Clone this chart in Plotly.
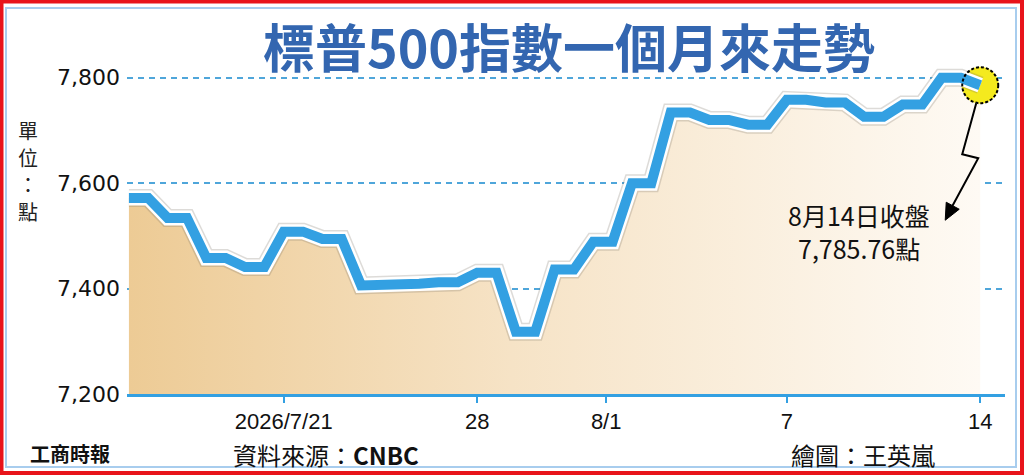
import numpy as np
import pandas as pd
import plotly.graph_objects as go

# 資料：標普500 收盤（交易日）
dates = ["2026-07-15", "2026-07-16", "2026-07-17", "2026-07-20", "2026-07-21",
         "2026-07-22", "2026-07-23", "2026-07-24", "2026-07-27", "2026-07-28",
         "2026-07-29", "2026-07-30", "2026-07-31", "2026-08-03", "2026-08-04",
         "2026-08-05", "2026-08-06", "2026-08-07", "2026-08-10", "2026-08-11",
         "2026-08-12", "2026-08-13", "2026-08-14"]
values = [7572, 7534, 7458, 7441, 7508, 7494, 7406, 7409, 7412, 7430,
          7318, 7436, 7489, 7600, 7734, 7720, 7711, 7758, 7753, 7726,
          7749, 7800, 7785.76]

tick_dates = ["2026-07-21", "2026-07-28", "2026-08-01", "2026-08-07", "2026-08-14"]
tick_labels = ["2026/7/21", "28", "8/1", "7", "14"]
y_ticks = [7200, 7400, 7600, 7800]

title = "標普500指數一個月來走勢"
unit_chars = ["單", "位", "：", "點"]
note_lines = ["8月14日收盤", "7,785.76點"]

# x 軸用交易日序號
d = pd.to_datetime(dates)
idx = np.arange(len(d))
tick_pos = np.interp(pd.to_datetime(tick_dates).map(pd.Timestamp.toordinal),
                     d.map(pd.Timestamp.toordinal), idx)

# 每個交易日畫成一小段平台（從當日往右）
flat = 0.5
xs, ys = [], []
for i, v in zip(idx, values):
    if i == idx[-1]:
        xs += [i]
        ys += [v]
    else:
        xs += [i, i + flat]
        ys += [v, v]

W, H = 1024, 475
L, R, T, B = 127, 19, 54, 81
pw, ph = W - L - R, H - T - B


def px(x):
    return (x - L) / pw


def py(y):
    return (H - B - y) / ph


blue = "#33A0E2"
cjk = "Noto Sans CJK TC"

fig = go.Figure()

# 漸層填色
fig.add_trace(go.Scatter(
    x=xs, y=ys, mode="lines", line=dict(width=0), fill="tozeroy",
    fillgradient=dict(type="horizontal",
                      colorscale=[[0, "#EDCB95"], [0.45, "#F6E3C6"], [1, "#FEFAF4"]]),
    hoverinfo="skip", showlegend=False))

# 收盤黃點
fig.add_trace(go.Scatter(
    x=[idx[-1]], y=[values[-1]], mode="markers",
    marker=dict(size=37, color="#F4EA1E", line=dict(width=0)),
    hoverinfo="skip", showlegend=False))

# 陰影 / 白邊 / 藍線
fig.add_trace(go.Scatter(x=xs, y=ys, mode="lines",
                         line=dict(width=18, color="rgba(120,110,100,0.25)"),
                         hoverinfo="skip", showlegend=False))
fig.add_trace(go.Scatter(x=xs, y=ys, mode="lines",
                         line=dict(width=15, color="white"),
                         hoverinfo="skip", showlegend=False))
fig.add_trace(go.Scatter(x=xs, y=ys, mode="lines",
                         line=dict(width=10, color=blue),
                         showlegend=False))

shapes = [
    # 外框
    dict(type="rect", xref="paper", yref="paper", x0=px(1.5), x1=px(1022), y0=py(1.5), y1=py(473),
         line=dict(color="#E8141B", width=4), layer="above"),
    dict(type="rect", xref="paper", yref="paper", x0=px(6), x1=px(1016), y0=py(8), y1=py(467),
         line=dict(color="#A8CDEE", width=2), layer="above"),
    # 黃點虛線框
    dict(type="circle", xref="x", yref="y", xsizemode="pixel", ysizemode="pixel",
         xanchor=idx[-1], yanchor=values[-1], x0=-18, x1=18, y0=-18, y1=18,
         line=dict(color="black", width=2, dash="3px,2px"), layer="above"),
    # 閃電箭頭
    dict(type="path", xref="x", yref="y", xsizemode="pixel", ysizemode="pixel",
         xanchor=idx[-1], yanchor=values[-1],
         path="M -4,-18 L -18,-69 L -2,-73 L -28,-121",
         line=dict(color="black", width=2), layer="above"),
    dict(type="path", xref="x", yref="y", xsizemode="pixel", ysizemode="pixel",
         xanchor=idx[-1], yanchor=values[-1],
         path="M -35,-135 L -21,-124 L -34,-117 Z",
         fillcolor="black", line=dict(color="black", width=1), layer="above"),
]

annotations = [
    dict(text=title, xref="paper", yref="paper", x=px(569), y=py(45),
         xanchor="center", yanchor="middle", showarrow=False,
         font=dict(family=cjk, size=52, color="#3366B0", weight="bold")),
    dict(text="工商時報", xref="paper", yref="paper", x=px(70), y=py(453),
         xanchor="center", yanchor="middle", showarrow=False,
         font=dict(family=cjk, size=20, color="#111111", weight="bold")),
    dict(text="資料來源：<b>CNBC</b>", xref="paper", yref="paper", x=px(231), y=py(454),
         xanchor="left", yanchor="middle", showarrow=False,
         font=dict(family=cjk, size=24, color="#111111")),
    dict(text="繪圖：王英嵐", xref="paper", yref="paper", x=px(789), y=py(454),
         xanchor="left", yanchor="middle", showarrow=False,
         font=dict(family=cjk, size=24, color="#111111")),
]
# 單位（直排）
for k, ch in enumerate(unit_chars):
    annotations.append(dict(text=ch, xref="paper", yref="paper", x=px(28), y=py(130 + 27 * k),
                            xanchor="center", yanchor="middle", showarrow=False, height=24,
                            font=dict(family=cjk, size=20, color="#222222")))
# 收盤註記
for k, line in enumerate(note_lines):
    annotations.append(dict(text=line, xref="paper", yref="paper", x=px(859), y=py(215 + 33 * k),
                            xanchor="center", yanchor="middle", showarrow=False,
                            font=dict(family=cjk, size=25, color="#111111")))

fig.update_layout(
    width=W, height=H,
    margin=dict(l=L, r=R, t=T, b=B),
    paper_bgcolor="white", plot_bgcolor="white",
    shapes=shapes, annotations=annotations,
    xaxis=dict(range=[-0.05, 22.64], tickvals=list(tick_pos), ticktext=tick_labels,
               showgrid=False, zeroline=False, showline=True, linecolor=blue, linewidth=3,
               ticks="outside", ticklen=6, tickwidth=2, tickcolor=blue,
               tickfont=dict(family="Liberation Sans", size=22, color="#111111")),
    yaxis=dict(range=[7200, 7845], tickvals=y_ticks, tickformat=",d",
               showgrid=True, gridcolor="#4FA6DA", gridwidth=1.5, griddash="6px,5px",
               zeroline=False, showline=False, ticklabelstandoff=6,
               tickfont=dict(family="DejaVu Sans", size=22, color="#111111")),
)

fig.write_html("out.html", config={"displayModeBar": False},
               post_script="document.body.style.margin='0';document.body.style.overflow='hidden';")
